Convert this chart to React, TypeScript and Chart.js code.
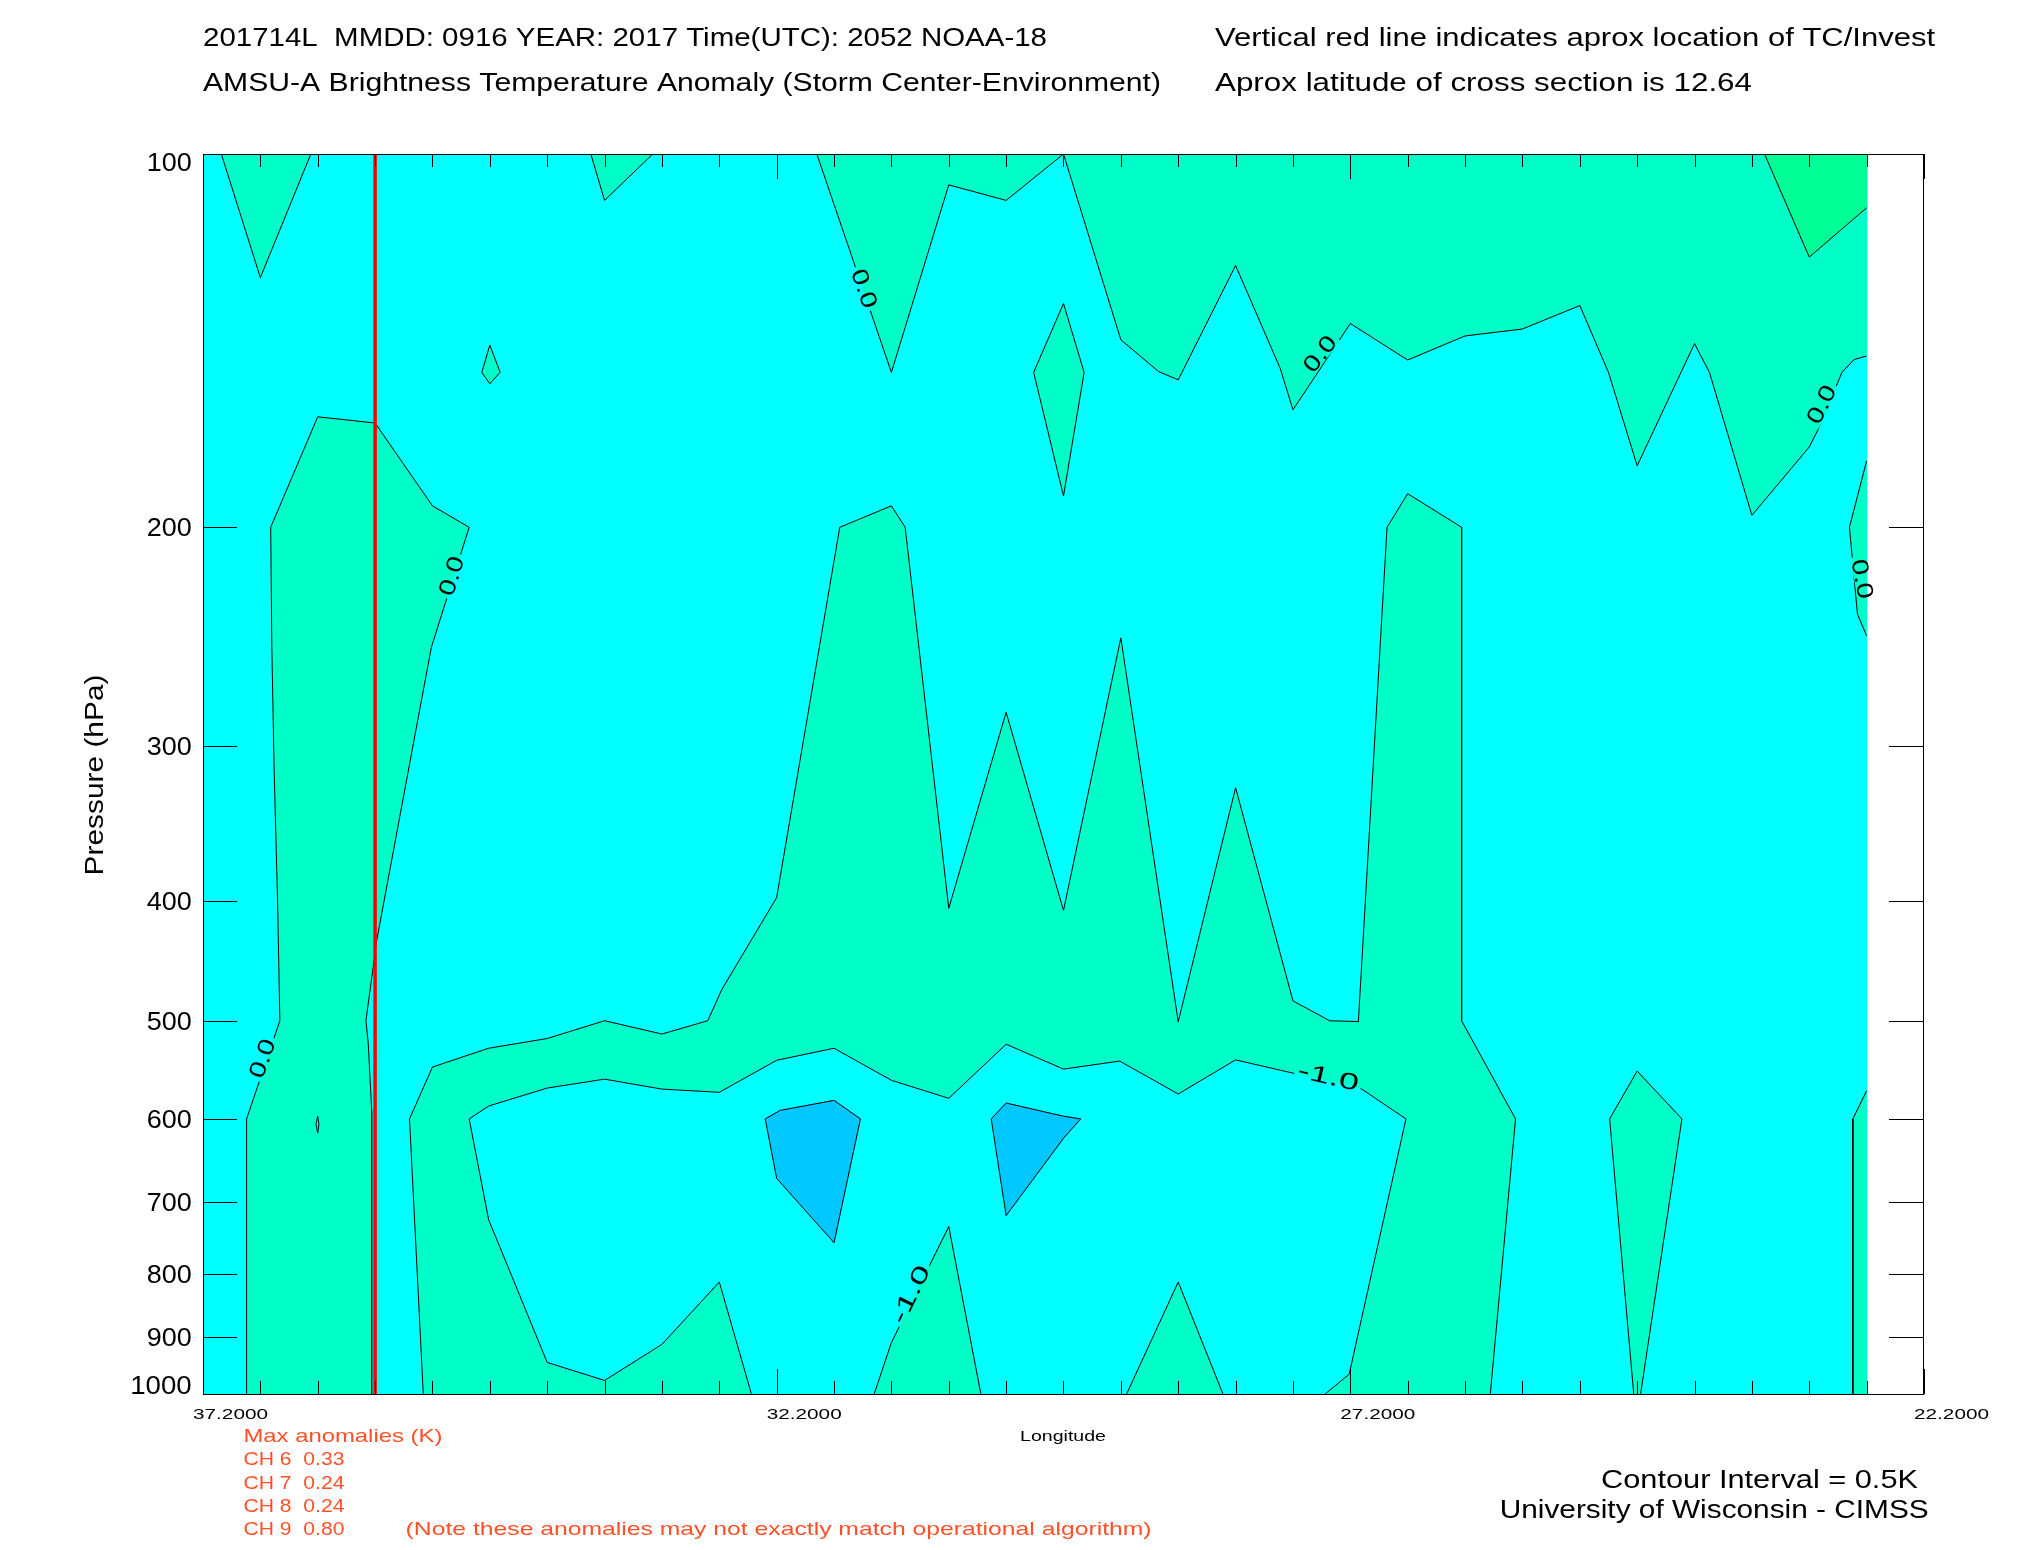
import React, { useEffect, useRef } from 'react';
import { Chart, registerables } from 'chart.js';

Chart.register(...registerables);

type Pt = [number, number]; // [longitude (deg), pressure (hPa)]

// ---------------- axes ----------------
const LON_WEST = 37.2;
const LON_EAST = 22.2;
const LON_DATA_EAST = 22.7;
const P_TOP = 100;
const P_BOTTOM = 1000;
const LON_MAJOR_TICKS = [37.2, 32.2, 27.2, 22.2];
const LON_TICK_LABELS = ['37.2000', '32.2000', '27.2000', '22.2000'];
const LON_MINOR_STEP = 0.5;
const P_TICKS = [100, 200, 300, 400, 500, 600, 700, 800, 900, 1000];
const P_TICK_LABELS = ['100', '200', '300', '400', '500', '600', '700', '800', '900', '1000'];
const TC_LONGITUDE = 35.7;

// ---------------- texts ----------------
const TITLE_LEFT = [
  '201714L  MMDD: 0916 YEAR: 2017 Time(UTC): 2052 NOAA-18',
  'AMSU-A Brightness Temperature Anomaly (Storm Center-Environment)',
];
const TITLE_RIGHT = [
  'Vertical red line indicates aprox location of TC/Invest',
  'Aprox latitude of cross section is 12.64',
];
const X_TITLE = 'Longitude';
const Y_TITLE = 'Pressure (hPa)';
const MAX_ANOM_TITLE = 'Max anomalies (K)';
const MAX_ANOM_CHANNELS = ['CH 6', 'CH 7', 'CH 8', 'CH 9'];
const MAX_ANOM_VALUES = ['0.33', '0.24', '0.24', '0.80'];
const NOTE = '(Note these anomalies may not exactly match operational algorithm)';
const CONTOUR_INTERVAL_TEXT = 'Contour Interval = 0.5K';
const CREDIT = 'University of Wisconsin - CIMSS';

// ---------------- filled contour bands ----------------
const BAND_CYAN = '#00FFFF';
const BAND_AQUA = '#00FFC8';
const BAND_GREEN = '#00FF96';
const BAND_BLUE = '#00C8FF';

const DATA_DOMAIN: Pt[] = [[37.2, 100], [22.7, 100], [22.7, 1000], [37.2, 1000]];
const WEST_TOP_TONGUE: Pt[] = [[37.04, 100], [36.7, 125.8], [36.26, 100]];
const TOP_TONGUE_337: Pt[] = [[33.82, 100], [33.7, 109], [33.28, 100]];
const DIAMOND_347: Pt[] = [[34.7, 142.6], [34.77, 150], [34.7, 153.2], [34.61, 150]];
const DIAMOND_297: Pt[] = [[29.7, 132], [29.96, 150], [29.7, 188.7], [29.52, 150]];
const UPPER_EAST: Pt[] = [
  [31.85, 100], [31.2, 150], [30.7, 105.9], [30.2, 109], [29.7, 100], [29.2, 141.2],
  [28.87, 149.8], [28.7, 152.1], [28.2, 123], [27.81, 149], [27.7, 160.8], [27.2, 137],
  [26.7, 146.6], [26.2, 140.2], [25.7, 138.4], [25.2, 132.5], [24.95, 150], [24.7, 178.4],
  [24.2, 142.2], [24.07, 150], [23.7, 195.6], [23.2, 172.3], [23.12, 166.6], [22.915, 150],
  [22.81, 146.5], [22.7, 145.5], [22.7, 100],
];
const EAST_EDGE_UPPER: Pt[] = [[22.7, 176.8], [22.85, 200], [22.78, 235], [22.7, 244.7]];
const WEST_COLUMN: Pt[] = [
  [36.2, 162.9], [35.7, 164.8], [35.2, 192.2], [34.88, 200], [35.21, 250], [35.69, 432.8],
  [35.72, 455], [35.78, 500], [35.76, 521], [35.73, 590], [35.73, 1000], [36.82, 1000],
  [36.82, 600], [36.53, 500], [36.55, 400], [36.58, 314], [36.6, 250], [36.61, 200],
];
const WEST_COLUMN_HOLE: Pt[] = [[36.2, 597], [36.215, 606], [36.2, 616], [36.19, 606]];
const MID_BAND: Pt[] = [
  [35.28, 1000], [35.4, 600], [35.2, 544.9], [34.71, 526.2], [34.2, 516.8], [33.7, 500],
  [33.2, 512.5], [32.8, 500], [32.68, 472.2], [32.2, 397.8], [31.65, 200], [31.2, 192.2],
  [31.08, 200], [30.7, 405.8], [30.2, 282], [29.7, 407.4], [29.2, 245.6], [28.7, 501],
  [28.2, 324.4], [27.7, 481.9], [27.38, 500], [27.13, 500.8], [26.88, 200], [26.7, 187.9],
  [26.23, 200], [26.23, 500], [25.76, 600], [25.98, 1000],
];
const MID_CORE: Pt[] = [
  [34.88, 600], [34.71, 585.8], [34.2, 566.6], [33.7, 557.3], [33.2, 567.7], [32.7, 571.1],
  [32.2, 538.1], [31.7, 526.2], [31.2, 558.5], [30.7, 577.5], [30.2, 522.3], [29.7, 547],
  [29.21, 538.9], [28.7, 572.9], [28.2, 537.7], [27.7, 551.1], [27.1, 567.7], [26.715, 600],
  [27.21, 964], [27.42, 1000], [32.42, 1000], [32.7, 812.3], [33.2, 912], [33.7, 975.2],
  [34.2, 943], [34.71, 723.6],
];
const CORE_TONGUE_312: Pt[] = [[31.35, 1000], [31.2, 909], [30.7, 732.8], [30.42, 1000]];
const CORE_TONGUE_287: Pt[] = [[29.15, 1000], [28.7, 812.3], [28.31, 1000]];
const CORE_POCKET_317: Pt[] = [[32.3, 600], [32.17, 590.6], [31.7, 579.7], [31.47, 600], [31.7, 755], [32.2, 670]];
const CORE_POCKET_300: Pt[] = [[30.33, 600], [30.2, 582.6], [29.7, 597], [29.55, 600], [29.7, 622], [30.2, 718]];
const DIAMOND_247: Pt[] = [[24.7, 549], [24.31, 600], [24.67, 1000], [24.73, 1000], [24.94, 600]];
const EAST_EDGE_LOWER: Pt[] = [[22.7, 569.5], [22.82, 600], [22.82, 1000], [22.7, 1000]];
const UPPER_EAST_MAX: Pt[] = [[23.59, 100], [23.2, 121.1], [22.7, 110.5], [22.7, 100]];

const LAYERS: { pts: Pt[]; color: string; contour: boolean }[] = [
  { pts: DATA_DOMAIN, color: BAND_CYAN, contour: false },
  { pts: WEST_TOP_TONGUE, color: BAND_AQUA, contour: true },
  { pts: TOP_TONGUE_337, color: BAND_AQUA, contour: true },
  { pts: DIAMOND_347, color: BAND_AQUA, contour: true },
  { pts: DIAMOND_297, color: BAND_AQUA, contour: true },
  { pts: UPPER_EAST, color: BAND_AQUA, contour: true },
  { pts: EAST_EDGE_UPPER, color: BAND_AQUA, contour: true },
  { pts: WEST_COLUMN, color: BAND_AQUA, contour: true },
  { pts: WEST_COLUMN_HOLE, color: BAND_CYAN, contour: true },
  { pts: MID_BAND, color: BAND_AQUA, contour: true },
  { pts: MID_CORE, color: BAND_CYAN, contour: true },
  { pts: CORE_TONGUE_312, color: BAND_AQUA, contour: true },
  { pts: CORE_TONGUE_287, color: BAND_AQUA, contour: true },
  { pts: CORE_POCKET_317, color: BAND_BLUE, contour: true },
  { pts: CORE_POCKET_300, color: BAND_BLUE, contour: true },
  { pts: DIAMOND_247, color: BAND_AQUA, contour: true },
  { pts: EAST_EDGE_LOWER, color: BAND_AQUA, contour: true },
  { pts: UPPER_EAST_MAX, color: BAND_GREEN, contour: true },
];

// contour labels: text, longitude, pressure, rotation (deg)
const LABEL_TEXT = ['0.0', '0.0', '0.0', '0.0', '0.0', '0.0', '-1.0', '-1.0'];
const LABEL_LON = [31.43, 35.04, 27.47, 23.1, 22.73, 36.69, 31.04, 27.39];
const LABEL_P = [128.3, 218.8, 144.8, 159.1, 220.1, 536, 830.7, 554];
const LABEL_ANGLE = [71, -73, -52, -64, 79, -70, -64, 13];

// ---------------- helpers ----------------
const FONT = '"Liberation Sans", Arial, sans-serif';
const RED_TEXT = 'rgb(255,80,40)';
const LABEL_SIZE = 23;

function labelWidth(text: string) {
  return text.length === 3 ? 40 : 62;
}

function isBoundaryEdge(a: Pt, b: Pt) {
  if (a[0] === b[0] && (a[0] === LON_WEST || a[0] === LON_DATA_EAST)) return true;
  if (a[1] === b[1] && (a[1] === P_TOP || a[1] === P_BOTTOM)) return true;
  return false;
}

function contourPaths(poly: Pt[]): Pt[][] {
  const n = poly.length;
  const onB = (i: number) => isBoundaryEdge(poly[i], poly[(i + 1) % n]);
  let start = -1;
  for (let i = 0; i < n; i++) if (onB(i)) { start = i; break; }
  if (start < 0) return [[...poly, poly[0]]];
  const paths: Pt[][] = [];
  let cur: Pt[] = [];
  for (let k = 1; k <= n; k++) {
    const i = (start + k) % n;
    if (onB(i)) {
      if (cur.length > 1) paths.push(cur);
      cur = [];
    } else {
      if (cur.length === 0) cur.push(poly[i]);
      cur.push(poly[(i + 1) % n]);
    }
  }
  if (cur.length > 1) paths.push(cur);
  return paths;
}

function drawFitted(ctx: CanvasRenderingContext2D, text: string, x: number, capMid: number, size: number, width: number, align: 'left' | 'right' | 'center', color = '#000') {
  ctx.save();
  ctx.font = `${size}px ${FONT}`;
  ctx.fillStyle = color;
  ctx.textBaseline = 'alphabetic';
  ctx.textAlign = 'left';
  const w = ctx.measureText(text).width || 1;
  const sx = width / w;
  const left = align === 'left' ? x : align === 'right' ? x - width : x - width / 2;
  ctx.translate(left, capMid + size * 0.358);
  ctx.scale(sx, 1);
  ctx.fillText(text, 0, 0);
  ctx.restore();
}

function drawRotated(ctx: CanvasRenderingContext2D, text: string, cx: number, cy: number, angleDeg: number, size: number, width: number, color = '#000') {
  ctx.save();
  ctx.translate(cx, cy);
  ctx.rotate((angleDeg * Math.PI) / 180);
  ctx.font = `${size}px ${FONT}`;
  ctx.fillStyle = color;
  ctx.textBaseline = 'alphabetic';
  ctx.textAlign = 'center';
  const w = ctx.measureText(text).width || 1;
  ctx.scale(width / w, 1);
  ctx.fillText(text, 0, size * 0.358);
  ctx.restore();
}

const decorPlugin = {
  id: 'decor',
  beforeDatasetDraw(chart: any, args: any) {
    const ds = chart.data.datasets[args.index];
    if (!ds || !ds.contourLine) return;
    const ctx: CanvasRenderingContext2D = chart.ctx;
    const xs = chart.scales.x;
    const ys = chart.scales.y;
    ctx.save();
    ctx.beginPath();
    ctx.rect(0, 0, chart.width, chart.height);
    for (let i = 0; i < LABEL_TEXT.length; i++) {
      const cx = xs.getPixelForValue(LABEL_LON[i]);
      const cy = ys.getPixelForValue(LABEL_P[i]);
      const a = (LABEL_ANGLE[i] * Math.PI) / 180;
      const hw = labelWidth(LABEL_TEXT[i]) / 2 + 3;
      const hh = 9;
      const ca = Math.cos(a), sa = Math.sin(a);
      const corners = [[-hw, -hh], [hw, -hh], [hw, hh], [-hw, hh]].map(([u, v]) => [cx + u * ca - v * sa, cy + u * sa + v * ca]);
      ctx.moveTo(corners[0][0], corners[0][1]);
      for (let k = 1; k < 4; k++) ctx.lineTo(corners[k][0], corners[k][1]);
      ctx.closePath();
    }
    ctx.clip('evenodd');
  },
  afterDatasetDraw(chart: any, args: any) {
    const ds = chart.data.datasets[args.index];
    if (!ds || !ds.contourLine) return;
    chart.ctx.restore();
  },
  afterDraw(chart: any) {
    const ctx: CanvasRenderingContext2D = chart.ctx;
    const xs = chart.scales.x;
    const ys = chart.scales.y;
    const { left, right, top, bottom } = chart.chartArea;

    // contour labels
    for (let i = 0; i < LABEL_TEXT.length; i++) {
      const cx = xs.getPixelForValue(LABEL_LON[i]);
      const cy = ys.getPixelForValue(LABEL_P[i]);
      drawRotated(ctx, LABEL_TEXT[i], cx, cy, LABEL_ANGLE[i], LABEL_SIZE, labelWidth(LABEL_TEXT[i]));
    }

    // TC red line
    ctx.save();
    ctx.strokeStyle = '#FF0000';
    ctx.lineWidth = 3.5;
    const tx = xs.getPixelForValue(TC_LONGITUDE);
    ctx.beginPath();
    ctx.moveTo(tx, top);
    ctx.lineTo(tx, bottom);
    ctx.stroke();
    ctx.restore();

    // frame & ticks
    ctx.save();
    ctx.strokeStyle = '#000';
    ctx.lineWidth = 1;
    ctx.strokeRect(left + 0.5, top + 0.5, right - left - 1, bottom - top);
    ctx.beginPath();
    for (const p of P_TICKS) {
      const y = Math.round(ys.getPixelForValue(p)) + 0.5;
      ctx.moveTo(left, y); ctx.lineTo(left + 34, y);
      ctx.moveTo(right, y); ctx.lineTo(right - 35, y);
    }
    const nMinor = Math.round((LON_WEST - LON_EAST) / LON_MINOR_STEP);
    for (let k = 0; k <= nMinor; k++) {
      const lon = LON_WEST - k * LON_MINOR_STEP;
      const isMajor = LON_MAJOR_TICKS.some((m) => Math.abs(m - lon) < 1e-6);
      const len = isMajor ? 25 : 13;
      const x = Math.round(xs.getPixelForValue(lon)) + 0.5;
      ctx.moveTo(x, top); ctx.lineTo(x, top + len);
      ctx.moveTo(x, bottom); ctx.lineTo(x, bottom - len);
    }
    ctx.stroke();
    ctx.restore();

    // tick labels
    P_TICKS.forEach((p, i) => {
      let y = ys.getPixelForValue(p);
      y = Math.min(Math.max(y, top + 8.5), bottom - 8.5);
      const lab = P_TICK_LABELS[i];
      drawFitted(ctx, lab, 191.7, y, 25, 16.5 * lab.length - 4.5, 'right');
    });
    LON_MAJOR_TICKS.forEach((lon, i) => {
      const x = xs.getPixelForValue(lon);
      drawFitted(ctx, LON_TICK_LABELS[i], x - 10, 1414, 15, 75, 'left');
    });

    // axis titles
    drawFitted(ctx, X_TITLE, 1020, 1436, 15, 86, 'left');
    drawRotated(ctx, Y_TITLE, 94.5, 775, -90, 25, 201);

    // header
    drawFitted(ctx, TITLE_LEFT[0], 203, 37.5, 25, 844, 'left');
    drawFitted(ctx, TITLE_LEFT[1], 203, 82.5, 25, 958, 'left');
    drawFitted(ctx, TITLE_RIGHT[0], 1215, 37.5, 25, 720, 'left');
    drawFitted(ctx, TITLE_RIGHT[1], 1215, 82.5, 25, 537, 'left');

    // max anomalies block
    drawFitted(ctx, MAX_ANOM_TITLE, 243.4, 1435.5, 19, 199, 'left', RED_TEXT);
    const rows = [1458.3, 1481.7, 1505, 1528.3];
    MAX_ANOM_CHANNELS.forEach((ch, i) => {
      drawFitted(ctx, `${ch}  ${MAX_ANOM_VALUES[i]}`, 243.4, rows[i], 19, 101, 'left', RED_TEXT);
    });
    drawFitted(ctx, NOTE, 405.6, 1528.3, 19, 746, 'left', RED_TEXT);

    // footer right
    drawFitted(ctx, CONTOUR_INTERVAL_TEXT, 1918, 1479, 26, 317, 'right');
    drawFitted(ctx, CREDIT, 1928.7, 1509.5, 25, 429, 'right');
  },
};

export default function App() {
  const canvasRef = useRef<HTMLCanvasElement | null>(null);

  useEffect(() => {
    const canvas = canvasRef.current;
    if (!canvas) return;
    const datasets: any[] = [];
    LAYERS.forEach((layer, i) => {
      datasets.push({
        data: layer.pts.map(([x, y]) => ({ x, y })),
        showLine: true,
        fill: 'shape',
        backgroundColor: layer.color,
        borderColor: layer.color,
        borderWidth: 1,
        pointRadius: 0,
        pointHoverRadius: 0,
        tension: 0,
        order: 1000 - i,
      });
    });
    LAYERS.forEach((layer) => {
      if (!layer.contour) return;
      contourPaths(layer.pts).forEach((path) => {
        datasets.push({
          data: path.map(([x, y]) => ({ x, y })),
          showLine: true,
          fill: false,
          borderColor: '#000000',
          borderWidth: 1,
          pointRadius: 0,
          pointHoverRadius: 0,
          tension: 0,
          order: 1,
          contourLine: true,
        });
      });
    });

    const chart = new Chart(canvas, {
      type: 'scatter',
      data: { datasets },
      options: {
        animation: false,
        responsive: false,
        events: [],
        layout: { padding: { left: 203, top: 154, right: 101, bottom: 156 } },
        plugins: {
          legend: { display: false },
          tooltip: { enabled: false },
          title: { display: false },
        },
        scales: {
          x: { type: 'linear', min: LON_EAST, max: LON_WEST, reverse: true, display: false },
          y: { type: 'logarithmic', min: P_TOP, max: P_BOTTOM, reverse: true, display: false },
        },
      } as any,
      plugins: [decorPlugin],
    });
    return () => chart.destroy();
  }, []);

  return (
    <div style={{ position: 'absolute', left: 0, top: 0, width: 2025, height: 1550, background: '#ffffff' }}>
      <canvas ref={canvasRef} width={2025} height={1550} style={{ display: 'block' }} />
    </div>
  );
}
